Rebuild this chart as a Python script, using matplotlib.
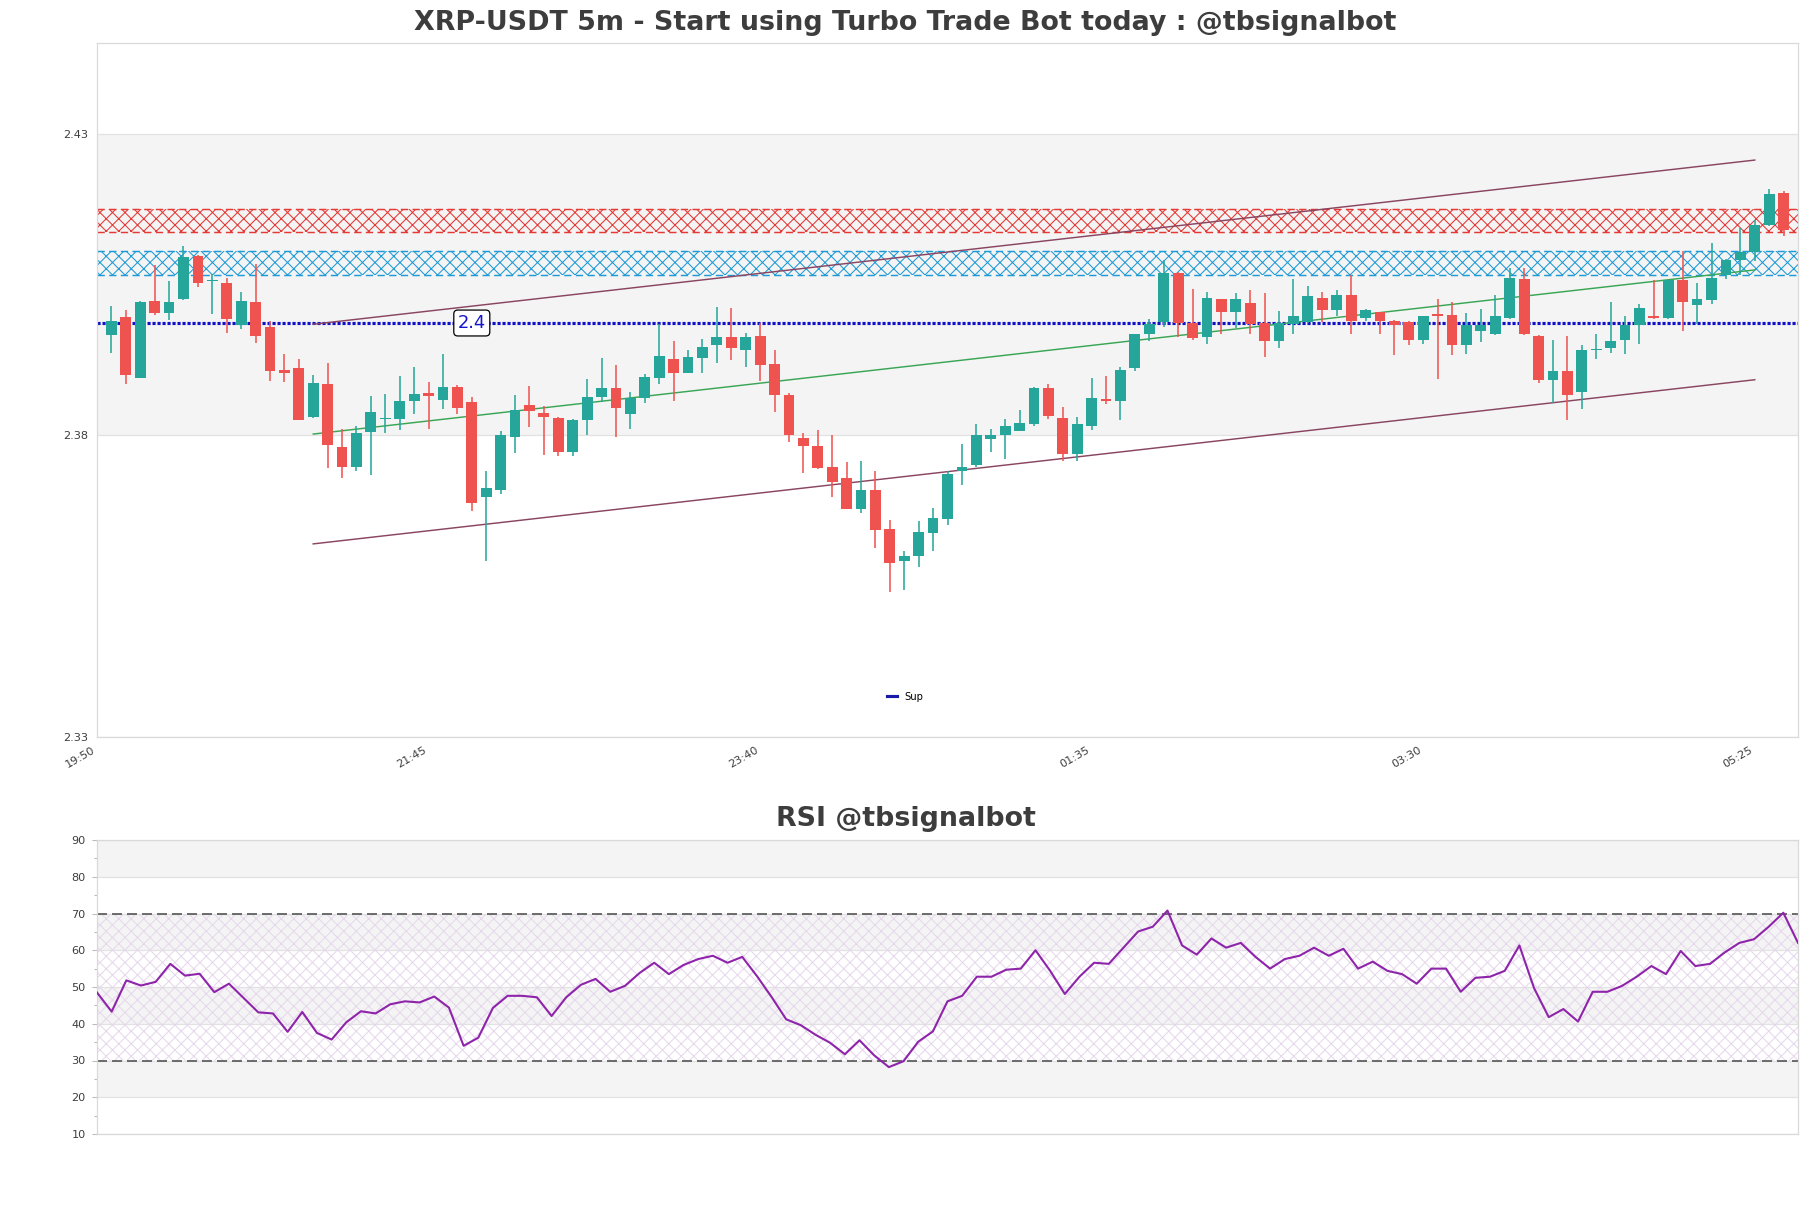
import matplotlib
matplotlib.use("Agg")
import matplotlib.pyplot as plt
from matplotlib.lines import Line2D
import numpy as np

# 5m candles, 19:55 -> 05:35
opens = [2.3966, 2.3996, 2.3895, 2.4023, 2.4002, 2.4025, 2.4097, 2.4056, 2.4052, 2.3983,
         2.4021, 2.3979, 2.3908, 2.3912, 2.3830, 2.3885, 2.3780, 2.3748, 2.3806, 2.3827,
         2.3827, 2.3857, 2.3870, 2.3859, 2.3880, 2.3855, 2.3697, 2.3710, 2.3797, 2.3850,
         2.3837, 2.3829, 2.3772, 2.3826, 2.3864, 2.3878, 2.3836, 2.3861, 2.3895, 2.3926,
         2.3903, 2.3928, 2.3949, 2.3962, 2.3941, 2.3964, 2.3918, 2.3867, 2.3796, 2.3783,
         2.3747, 2.3729, 2.3677, 2.3709, 2.3645, 2.3591, 2.3600, 2.3638, 2.3661, 2.3740,
         2.3750, 2.3794, 2.3800, 2.3807, 2.3818, 2.3878, 2.3828, 2.3769, 2.3816, 2.3860,
         2.3856, 2.3912, 2.3968, 2.3988, 2.4069, 2.3986, 2.3963, 2.4025, 2.4004, 2.4019,
         2.3986, 2.3956, 2.3985, 2.3988, 2.4028, 2.4008, 2.4032, 2.3995, 2.4004, 2.3990,
         2.3988, 2.3958, 2.4001, 2.4000, 2.3949, 2.3972, 2.3967, 2.3994, 2.4059, 2.3965,
         2.3891, 2.3907, 2.3871, 2.3941, 2.3944, 2.3958, 2.3982, 2.3997, 2.3994, 2.4058,
         2.4016, 2.4024, 2.4066, 2.4090, 2.4103, 2.4148, 2.4201]
highs = [2.4014, 2.4008, 2.4022, 2.4082, 2.4055, 2.4113, 2.4098, 2.4068, 2.4060, 2.4037,
         2.4083, 2.3989, 2.3935, 2.3927, 2.3900, 2.3920, 2.3811, 2.3816, 2.3865, 2.3868,
         2.3899, 2.3913, 2.3888, 2.3934, 2.3884, 2.3863, 2.3740, 2.3807, 2.3866, 2.3882,
         2.3849, 2.3830, 2.3827, 2.3893, 2.3928, 2.3916, 2.3871, 2.3901, 2.3985, 2.3956,
         2.3941, 2.3960, 2.4013, 2.4011, 2.3970, 2.3986, 2.3942, 2.3870, 2.3803, 2.3809,
         2.3801, 2.3756, 2.3757, 2.3740, 2.3659, 2.3609, 2.3658, 2.3680, 2.3740, 2.3785,
         2.3818, 2.3811, 2.3827, 2.3842, 2.3880, 2.3885, 2.3847, 2.3830, 2.3895, 2.3899,
         2.3913, 2.3968, 2.3992, 2.4090, 2.4070, 2.4042, 2.4038, 2.4026, 2.4036, 2.4040,
         2.4036, 2.4006, 2.4059, 2.4048, 2.4038, 2.4041, 2.4065, 2.4009, 2.4005, 2.3991,
         2.3989, 2.3997, 2.4025, 2.4021, 2.4003, 2.4010, 2.4033, 2.4077, 2.4077, 2.3966,
         2.3958, 2.3965, 2.3949, 2.3968, 2.4021, 2.3998, 2.4018, 2.4058, 2.4058, 2.4105,
         2.4052, 2.4119, 2.4092, 2.4144, 2.4157, 2.4208, 2.4205]
lows = [2.3936, 2.3885, 2.3895, 2.3999, 2.3991, 2.4024, 2.4045, 2.4001, 2.3970, 2.3976,
        2.3953, 2.3890, 2.3889, 2.3826, 2.3829, 2.3746, 2.3730, 2.3740, 2.3734, 2.3803,
        2.3808, 2.3836, 2.3811, 2.3843, 2.3835, 2.3675, 2.3592, 2.3703, 2.3771, 2.3813,
        2.3767, 2.3766, 2.3765, 2.3800, 2.3855, 2.3797, 2.3810, 2.3853, 2.3885, 2.3856,
        2.3903, 2.3903, 2.3919, 2.3925, 2.3913, 2.3890, 2.3839, 2.3789, 2.3738, 2.3744,
        2.3697, 2.3677, 2.3671, 2.3613, 2.3540, 2.3543, 2.3581, 2.3609, 2.3652, 2.3718,
        2.3748, 2.3772, 2.3761, 2.3807, 2.3816, 2.3827, 2.3758, 2.3758, 2.3809, 2.3851,
        2.3825, 2.3907, 2.3956, 2.3979, 2.3963, 2.3958, 2.3951, 2.3968, 2.3978, 2.3967,
        2.3929, 2.3944, 2.3967, 2.3986, 2.3987, 2.3998, 2.3967, 2.3989, 2.3968, 2.3933,
        2.3949, 2.3952, 2.3893, 2.3933, 2.3935, 2.3954, 2.3966, 2.3993, 2.3966, 2.3887,
        2.3854, 2.3825, 2.3843, 2.3927, 2.3936, 2.3934, 2.3952, 2.3993, 2.3993, 2.3972,
        2.3984, 2.4018, 2.4059, 2.4065, 2.4088, 2.4147, 2.4130]
closes = [2.3990, 2.3900, 2.4021, 2.4003, 2.4021, 2.4096, 2.4052, 2.4058, 2.3992, 2.4023,
          2.3964, 2.3907, 2.3903, 2.3826, 2.3886, 2.3784, 2.3748, 2.3803, 2.3839, 2.3829,
          2.3857, 2.3869, 2.3865, 2.3880, 2.3845, 2.3688, 2.3713, 2.3800, 2.3842, 2.3840,
          2.3830, 2.3772, 2.3826, 2.3864, 2.3878, 2.3846, 2.3862, 2.3896, 2.3932, 2.3903,
          2.3929, 2.3947, 2.3962, 2.3944, 2.3962, 2.3916, 2.3866, 2.3801, 2.3782, 2.3746,
          2.3722, 2.3677, 2.3709, 2.3643, 2.3589, 2.3600, 2.3639, 2.3663, 2.3735, 2.3748,
          2.3801, 2.3801, 2.3815, 2.3821, 2.3878, 2.3832, 2.3769, 2.3819, 2.3861, 2.3856,
          2.3908, 2.3968, 2.3985, 2.4069, 2.3986, 2.3961, 2.4027, 2.4004, 2.4025, 2.3985,
          2.3956, 2.3986, 2.3997, 2.4030, 2.4008, 2.4032, 2.3989, 2.4008, 2.3989, 2.3982,
          2.3958, 2.3997, 2.3997, 2.3949, 2.3982, 2.3983, 2.3998, 2.4061, 2.3967, 2.3891,
          2.3907, 2.3867, 2.3942, 2.3943, 2.3956, 2.3982, 2.4011, 2.3994, 2.4058, 2.4020,
          2.4026, 2.4061, 2.4091, 2.4103, 2.4149, 2.4199, 2.4140]

rsi = [48.5, 43.3, 51.8, 50.4, 51.4, 56.3, 53.1, 53.6, 48.6, 50.9,
       47.0, 43.1, 42.8, 37.8, 43.2, 37.5, 35.7, 40.4, 43.4, 42.8,
       45.3, 46.1, 45.8, 47.4, 44.4, 34.0, 36.2, 44.3, 47.6, 47.6,
       47.2, 42.1, 47.2, 50.6, 52.2, 48.7, 50.3, 53.8, 56.6, 53.5,
       56.0, 57.6, 58.5, 56.6, 58.2, 53.0, 47.3, 41.2, 39.6, 37.0,
       34.8, 31.7, 35.5, 31.4, 28.2, 29.8, 35.1, 37.9, 46.1, 47.6,
       52.8, 52.8, 54.7, 55.0, 60.0, 54.4, 48.1, 52.8, 56.6, 56.3,
       60.7, 65.1, 66.4, 70.8, 61.3, 58.8, 63.2, 60.7, 62.0, 58.2,
       55.0, 57.6, 58.5, 60.7, 58.5, 60.4, 55.0, 56.9, 54.4, 53.5,
       50.9, 55.0, 55.0, 48.7, 52.5, 52.8, 54.4, 61.3, 49.7, 41.8,
       44.0, 40.6, 48.7, 48.7, 50.3, 52.8, 55.7, 53.5, 59.8, 55.7,
       56.3, 59.4, 62.0, 63.0, 66.4, 70.2, 62.0]

tick_pos = [0, 23, 46, 69, 92, 115]
tick_labels = ["19:50", "21:45", "23:40", "01:35", "03:30", "05:25"]

sup_level = 2.3986
res_zone = (2.4136, 2.4175)
sup_zone = (2.4066, 2.4106)
chan_x = [15, 115]
chan_upper = [2.3984, 2.4256]
chan_mid = [2.3802, 2.4074]
chan_lower = [2.3620, 2.3892]

GREEN = "#26a69a"
RED = "#ef5350"
BAND = "#f4f4f4"
SPINE = "#d9d9d9"
TXT = "#3d3d3d"

plt.rcParams["hatch.linewidth"] = 0.5

fig = plt.figure(figsize=(1811 / 150, 1208 / 150), dpi=150)
ax = fig.add_axes([97 / 1811, 1 - 737 / 1208, 1701 / 1811, 694 / 1208])
ax2 = fig.add_axes([97 / 1811, 1 - 1134 / 1208, 1701 / 1811, 294 / 1208])

# ---- price panel
o = np.array(opens)
h = np.array(highs)
l = np.array(lows)
c = np.array(closes)
x = np.arange(1, len(o) + 1)
cols = np.where(c >= o, GREEN, RED)

ax.set_ylim(2.33, 2.445)
ax.set_xlim(0, len(o) + 1)
ax.axhspan(2.38, 2.43, color=BAND, lw=0, zorder=0)
for yv in [2.33, 2.38, 2.43]:
    ax.axhline(yv, color="#e2e2e2", lw=0.6, zorder=0.5)

ax.axhspan(*res_zone, facecolor="none", edgecolor="#e53935", hatch="xxxx", lw=0, zorder=1)
ax.axhspan(*sup_zone, facecolor="none", edgecolor="#1e9ad6", hatch="xxxx", lw=0, zorder=1)
for yv in res_zone:
    ax.axhline(yv, color="#e53935", ls=(0, (5, 3)), lw=0.7, zorder=1)
for yv in sup_zone:
    ax.axhline(yv, color="#1e9ad6", ls=(0, (5, 3)), lw=0.7, zorder=1)

ax.axhline(sup_level, color="#1010c8", ls=(0, (1, 0.6)), lw=1.5, zorder=2)
ax.text(26, sup_level, "2.4", color="#1515cc", fontsize=8.6, ha="center", va="center", zorder=6,
        bbox=dict(boxstyle="round,pad=0.22", fc="white", ec="black", lw=0.6))

ax.plot(chan_x, chan_upper, color="#8a4560", lw=0.7, zorder=2)
ax.plot(chan_x, chan_lower, color="#8a4560", lw=0.7, zorder=2)
ax.plot(chan_x, chan_mid, color="#3aa655", lw=0.7, zorder=2)

ax.vlines(x, l, h, colors=cols, lw=0.75, zorder=3)
body = np.maximum(np.abs(c - o), 0.00008)
ax.bar(x, body, bottom=np.minimum(o, c), width=0.75, color=cols, zorder=4)

ax.set_yticks([2.33, 2.38, 2.43])
ax.set_yticklabels(["2.33", "2.38", "2.43"])
ax.set_xticks(tick_pos)
ax.set_xticklabels(tick_labels, rotation=30, ha="right")
ax.tick_params(axis="both", labelsize=5.4, colors=SPINE, labelcolor=TXT, length=0, pad=4)
for s in ax.spines.values():
    s.set_color(SPINE)
    s.set_linewidth(0.6)
fig.text(0.5, 1 - 23 / 1208, "XRP-USDT 5m - Start using Turbo Trade Bot today : @tbsignalbot",
         fontsize=12.9, fontweight="bold", color=TXT, ha="center", va="center")
ax.legend(handles=[Line2D([0], [0], color="#1a1aa8", lw=1.5)], labels=["Sup"],
          loc="center", bbox_to_anchor=(0.475, 0.058), frameon=False, fontsize=4.8,
          handlelength=1.0, handletextpad=0.8)

# ---- RSI panel
xi = np.arange(len(rsi))
ax2.set_xlim(0, len(rsi) - 1)
ax2.set_ylim(10, 90)
for lo in [20, 40, 60, 80]:
    ax2.axhspan(lo, lo + 10, color=BAND, lw=0, zorder=0)
ax2.axhspan(30, 70, facecolor="none", edgecolor="#e6d8ec", hatch="xxxx", lw=0, zorder=0.6)
for yv in range(10, 91, 10):
    ax2.axhline(yv, color="#e2e2e2", lw=0.6, zorder=0.5)
ax2.axhline(70, color="#555555", ls=(0, (6, 3)), lw=0.8, zorder=2)
ax2.axhline(30, color="#555555", ls=(0, (6, 3)), lw=0.8, zorder=2)
ax2.plot(xi, rsi, color="#8e24aa", lw=1.0, zorder=3)
ax2.set_yticks(range(10, 91, 10))
ax2.set_yticks(range(15, 90, 10), minor=True)
ax2.set_xticks([])
ax2.tick_params(axis="y", which="both", labelsize=5.4, colors="#bbbbbb", labelcolor=TXT,
                length=2.5, width=0.5, pad=3)
ax2.tick_params(axis="y", which="minor", length=1.5)
for s in ax2.spines.values():
    s.set_color(SPINE)
    s.set_linewidth(0.6)
fig.text(0.5, 1 - 819 / 1208, "RSI @tbsignalbot", fontsize=12.9, fontweight="bold",
         color=TXT, ha="center", va="center")

fig.savefig("out.png", dpi=150, facecolor="white")
